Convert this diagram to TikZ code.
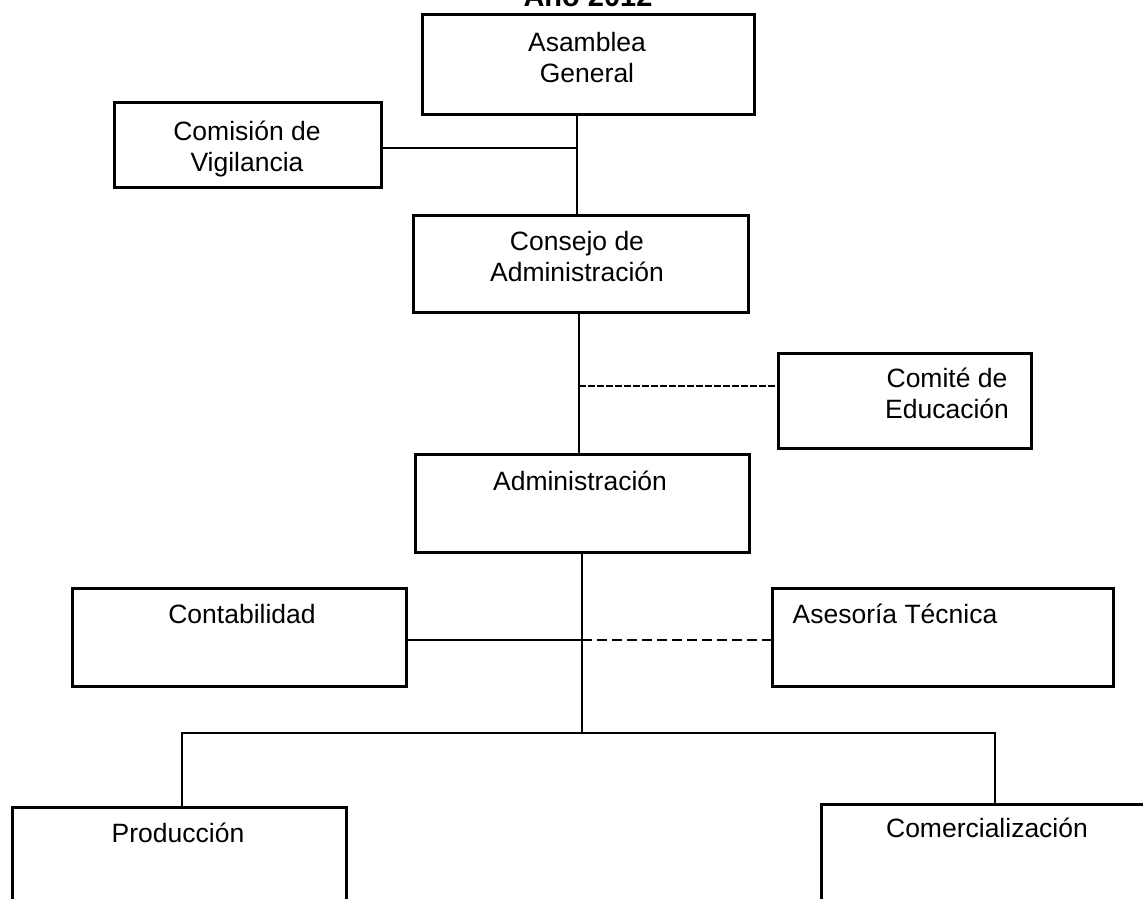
\documentclass[tikz,border=0pt]{standalone}
\usepackage{fontspec}
\newfontfamily\arial{Liberation Sans}
\usepackage{tikz}
\usetikzlibrary{positioning}

\begin{document}
\begin{tikzpicture}[x=1pt,y=-1pt]
\tikzstyle{caja}=[rectangle,draw,line width=3pt,inner sep=0pt]
\tikzstyle{txt}=[font=\arial\fontsize{26.5}{31}\selectfont,align=center,anchor=base,inner sep=0pt]
\tikzstyle{linea}=[line width=2.6pt]
\useasboundingbox (0,0) rectangle (1143,899);
\clip (0,0) rectangle (1143,899);
% title, cut at the top edge
\node[txt,font=\arial\bfseries\fontsize{29}{34}\selectfont] (titulo) at (588,7) {Año 2012};
% boxes
\node[caja,minimum width=332pt,minimum height=99pt] (asamblea) at (588,64.5) {};
\node[caja,minimum width=267pt,minimum height=85pt] (comision) at (247.5,144.5) {};
\node[caja,minimum width=335pt,minimum height=97pt] (consejo) at (580.5,263.5) {};
\node[caja,minimum width=253pt,minimum height=95pt] (comite) at (904.5,400.5) {};
\node[caja,minimum width=334pt,minimum height=98pt] (admin) at (582,503) {};
\node[caja,minimum width=334pt,minimum height=98pt] (contab) at (239,637) {};
\node[caja,minimum width=341pt,minimum height=98pt] (asesoria) at (942.5,637) {};
\node[caja,minimum width=334pt,minimum height=150pt] (produccion) at (179,882) {};
\node[caja,minimum width=344pt,minimum height=150pt] (comerc) at (993,879) {};
% texts (base = last line)
\node[txt] at (587,82) {Asamblea\\General};
\node[txt] at (247,171) {Comisión de\\Vigilancia};
\node[txt] at (577,281) {Consejo de\\Administración};
\node[txt] at (947,418) {Comité de\\Educación};
\node[txt] at (580,490) {Administración};
\node[txt] at (242,623) {Contabilidad};
\node[txt] at (895,623) {Asesoría Técnica};
\node[txt] at (178,842) {Producción};
\node[txt] at (987,837) {Comercialización};
% junctions
\coordinate (j1) at (577,148);
\coordinate (j2) at (579,386);
\coordinate (j3) at (582,640);
\coordinate (j4) at (582,733);
\coordinate (cp) at (182,733);
\coordinate (cc) at (995,733);
% connectors
\draw[linea] (asamblea.south -| j1) -- (consejo.north -| j1);
\draw[linea] (comision.east |- j1) -- (j1);
\draw[linea] (consejo.south -| j2) -- (admin.north -| j2);
\draw[linea,dash pattern=on 7pt off 2pt] (j2) -- (j2 -| comite.west);
\draw[linea] (admin.south -| j4) -- (j4);
\draw[linea] (contab.east |- j3) -- (j3);
\draw[linea,dash pattern=on 10pt off 5pt] (j3) -- (j3 -| asesoria.west);
\draw[linea] (produccion.north -| cp) -- (cp) -- (cc) -- (comerc.north -| cc);
\end{tikzpicture}
\end{document}
